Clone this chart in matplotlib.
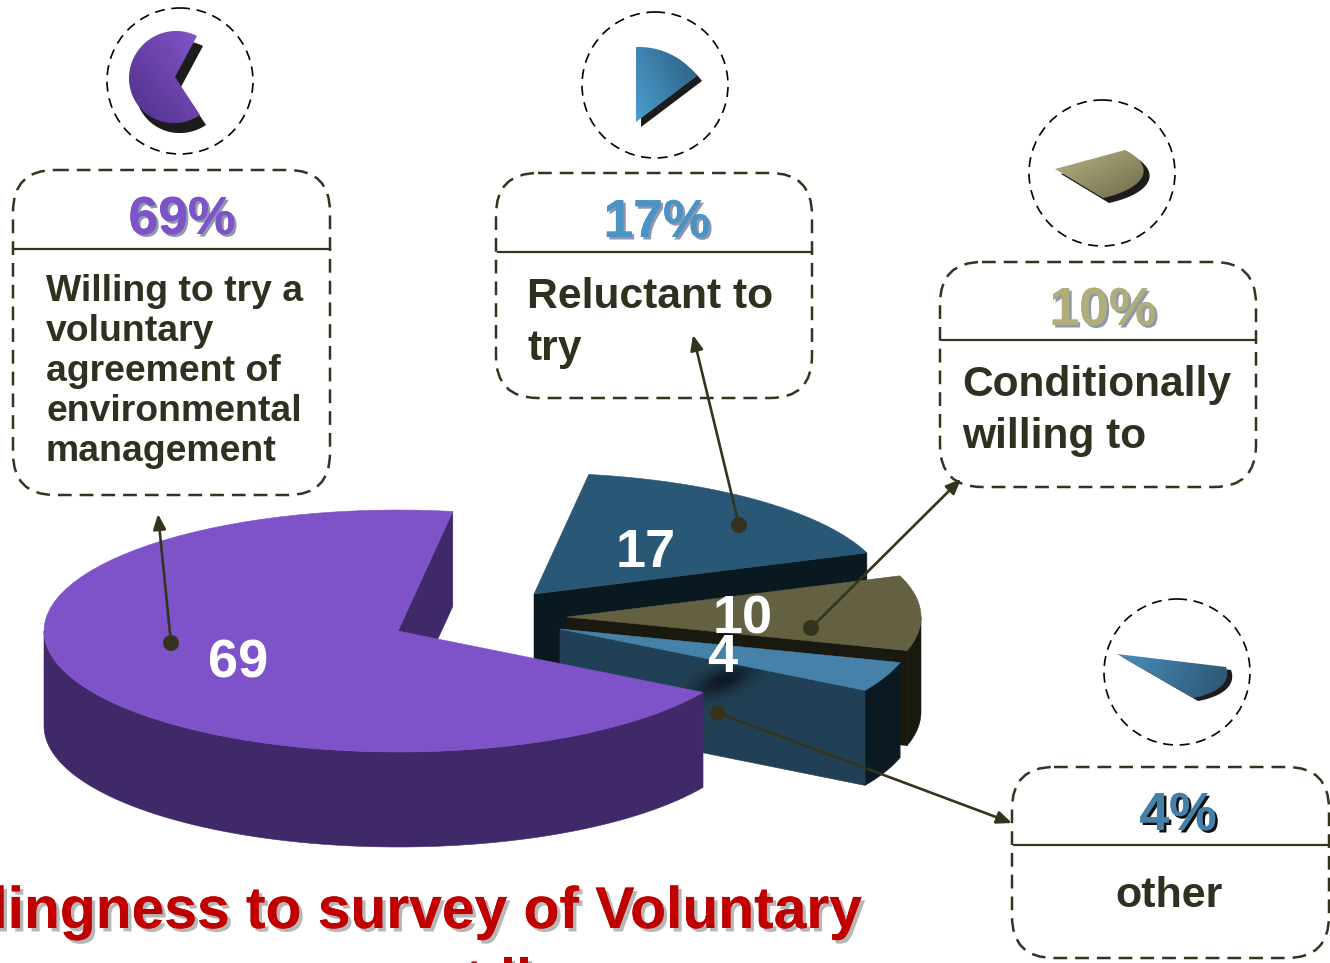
#!/usr/bin/env python3
import numpy as np
import matplotlib
matplotlib.use('Agg')
import matplotlib.pyplot as plt
import matplotlib.patheffects as pe
from matplotlib.colors import LinearSegmentedColormap
from matplotlib.patches import Circle, FancyBboxPatch, Polygon

plt.rcParams['font.family'] = ['Liberation Sans', 'DejaVu Sans']

# ── Data ──────────────────────────────────────────────────────────────────
shares = [69, 17, 10, 4]
slice_labels = ['69', '17', '10', '4']
pct_labels = ['69%', '17%', '10%', '4%']
box_texts = [
    ['Willing to try a', 'voluntary', 'agreement of', 'environmental', 'management'],
    ['Reluctant to', 'try'],
    ['Conditionally', 'willing to'],
    ['other'],
]
title_line = 'Willingness to survey of Voluntary'

INK = '#34341E'
START = 30.5      # where the big slice starts, degrees on the flattened ellipse
RX, RY, DEPTH = 354, 121, 95

fig = plt.figure(figsize=(13.30, 9.63), dpi=100, facecolor='white')
ax = fig.add_axes([0, 0, 1, 1])


def arc(cx, cy, t0, t1, n=80):
    t = np.radians(np.linspace(t0, t1, n))
    return np.column_stack([cx + RX * np.cos(t), cy + RY * np.sin(t)])


def poly(pts, color, z):
    p = Polygon(pts, closed=True, facecolor=color, edgecolor=color, lw=0.4, zorder=z)
    ax.add_patch(p)
    return p


def edge_wall(cx, cy, t, color, z):
    rim = arc(cx, cy, t, t, 1)[0]
    pts = [(cx, cy), rim, rim + (0, DEPTH), (cx, cy + DEPTH)]
    return poly(pts, color, z)


def outer_wall(cx, cy, t0, t1, color, z):
    # only the front half of the rim is visible
    base = 360 * np.floor(t1 / 360)
    a = arc(cx, cy, max(t0, base), min(t1, base + 180))
    poly(np.vstack([a, (a + (0, DEPTH))[::-1]]), color, z)


def top_face(cx, cy, t0, t1, color, z):
    poly(np.vstack([[(cx, cy)], arc(cx, cy, t0, t1)]), color, z)


# ── 3D exploded pie: slice angles come from the shares ────────────────────
edges = START + np.cumsum([0] + shares) * 3.6
t_purple, t_blue, t_olive, t_small = zip(edges[:-1], edges[1:])

# 17 slice
edge_wall(534, 594, t_blue[1], '#0A1820', 2)
top_face(534, 594, *t_blue, '#295776', 3)
# 10 slice
outer_wall(567, 617, *t_olive, '#1A190F', 4)
edge_wall(567, 617, t_olive[1], '#1A190F', 5)
top_face(567, 617, *t_olive, '#636142', 6)
# 4 slice
outer_wall(560, 629, *t_small, '#0B1A22', 7)
face = edge_wall(560, 629, t_small[1], '#224055', 8)
top_face(560, 629, *t_small, '#4581A9', 10)

# dark spot where the big slice meets the 4 slice, leaning up to the right
yy, xx = np.mgrid[640:730:120j, 660:790:160j]
spot = np.zeros(xx.shape + (4,))
spot[..., :3] = matplotlib.colors.to_rgb('#0E1A24')
along = (xx - 724) * 0.92 - (yy - 680) * 0.38
across = (xx - 724) * 0.38 + (yy - 680) * 0.92
spot[..., 3] = np.exp(-(along / 30) ** 2 - (across / 12) ** 2)
im = ax.imshow(spot, extent=(660, 790, 730, 640), aspect='auto', zorder=9, interpolation='bilinear')
im.set_clip_path(Polygon(face.get_xy(), transform=ax.transData))

# 69 slice
edge_wall(398, 631, t_purple[1] - 360, '#402968', 11)
outer_wall(398, 631, *t_purple, '#402968', 12)
top_face(398, 631, *t_purple, '#7E52C8', 13)

for lab, x, y in zip(slice_labels, [238, 646, 743, 722], [678, 567, 633, 672]):
    ax.text(x, y, lab, color='white', fontsize=39, fontweight='bold',
            ha='center', va='baseline', zorder=20)


# ── Small icons in the dashed circles ─────────────────────────────────────
def icon(apex, p0, p1, sweep, shadow, colors, direction):
    A = np.array(apex, float)
    s = np.radians(sweep)
    U = np.array([[1, np.cos(s)], [0, np.sin(s)]])
    D = np.column_stack([np.subtract(p0, A), np.subtract(p1, A)])
    M = D @ np.linalg.inv(U)
    t = np.linspace(0, s, 90)
    pts = np.vstack([A, A + (M @ np.vstack([np.cos(t), np.sin(t)])).T])
    ax.add_patch(Polygon(pts + shadow, facecolor='#1C1C1C', edgecolor='none', zorder=3))
    x0, y0 = pts.min(axis=0)
    x1, y1 = pts.max(axis=0)
    yy, xx = np.mgrid[y0:y1:80j, x0:x1:80j]
    g = (xx - x0) / (x1 - x0) * direction[0] + (yy - y0) / (y1 - y0) * direction[1]
    cmap = LinearSegmentedColormap.from_list('grad', colors)
    img = ax.imshow(g, extent=(x0, x1, y1, y0), aspect='auto', cmap=cmap, zorder=4)
    img.set_clip_path(Polygon(pts, transform=ax.transData))


icon((175, 77), (200, 115), (197, 36), 241.5, (6, 10), ['#4F2F8A', '#8356C8'], (1, -1))
icon((636, 122), (636, 47), (697, 76), 54, (5, 5), ['#4C9DCE', '#2B5D80'], (1, -0.6))
icon((1055, 169), (1125, 150), (1103, 198), 95, (6, 5), ['#B6B384', '#706C4A'], (1, 1))
icon((1117, 654), (1226, 667), (1193, 698), 55, (5, 3), ['#4A90BC', '#2C5470'], (1, 0.2))

for cx, cy in [(180, 81), (655, 85), (1102, 173), (1177, 672)]:
    ax.add_patch(Circle((cx, cy), 73, fill=False, edgecolor='black', lw=1.2,
                        linestyle=(0, (6, 4)), zorder=5))

# ── Dashed callouts ───────────────────────────────────────────────────────
boxes = [(13, 170, 317, 325, 249), (496, 173, 316, 225, 252),
         (940, 262, 316, 225, 340), (1012, 767, 317, 191, 845)]
pct_pos = [(182, 234), (657, 237), (1103, 325), (1178, 830)]
pct_cols = ['#7E52C8', '#4A93C4', '#B0AD7A', '#4580A9']
pct_shadow = ['#8D97AE', '#8D97AE', '#8D97AE', '#101010']

for (x, y, w, h, ly), (px, py), col, sh, lab in zip(boxes, pct_pos, pct_cols, pct_shadow, pct_labels):
    ax.add_patch(FancyBboxPatch((x, y), w, h, boxstyle='round,pad=0,rounding_size=42',
                                fill=False, edgecolor=INK, lw=1.8,
                                linestyle=(0, (5.5, 3.2)), zorder=5))
    ax.plot([x + 2, x + w], [ly, ly], color=INK, lw=1.6, zorder=5)
    ax.text(px, py, lab, color=col, fontsize=38.5, fontweight='bold', ha='center', va='baseline',
            zorder=6, path_effects=[pe.withSimplePatchShadow(offset=(1.8, -1.8), shadow_rgbFace=sh, alpha=1), pe.Normal()])

text_x = [46, 527, 962, 1169]
text_y = [301, 308, 396, 907]
text_step = [40, 52, 52, 0]
text_size = [26.9, 30.7, 30.6, 31]
text_ha = ['left', 'left', 'left', 'center']
for lines, x, y, step, fs, ha in zip(box_texts, text_x, text_y, text_step, text_size, text_ha):
    for i, line in enumerate(lines):
        ax.text(x, y + i * step, line, color='#2F3020', fontsize=fs, fontweight='bold',
                ha=ha, va='baseline', zorder=6)

# ── Leader lines ──────────────────────────────────────────────────────────
dots = [(171, 643), (739, 525), (811, 628), (718, 713)]
tips = [(158, 514), (693, 335), (961, 479), (1012, 823)]
for d, tp in zip(dots, tips):
    ax.annotate('', xy=tp, xytext=d, zorder=21,
                arrowprops=dict(arrowstyle='-|>,head_length=0.9,head_width=0.38', color=INK, lw=1.9,
                                shrinkA=0, shrinkB=0))
    ax.add_patch(Circle(d, 8, facecolor=INK, edgecolor='none', zorder=22))

# ── Title, cut off by the picture edges ───────────────────────────────────
shadow = [pe.withSimplePatchShadow(offset=(2.5, -2.5), shadow_rgbFace='#888888', alpha=0.6), pe.Normal()]
ax.text(862, 928, title_line, color='#C00000', fontsize=42.3, fontweight='bold',
        ha='right', va='baseline', path_effects=shadow, zorder=6)
ax.text(474, 1000, 't', color='#C00000', fontsize=42.3, fontweight='bold',
        ha='center', va='baseline', path_effects=shadow, zorder=6)
ax.text(516, 1000, 'll', color='#C00000', fontsize=42.3, fontweight='bold',
        ha='center', va='baseline', path_effects=shadow, zorder=6)

ax.set_xlim(0, 1330)
ax.set_ylim(963, 0)
ax.set_axis_off()
fig.savefig('out.png', dpi=100, facecolor='white')
plt.close()
